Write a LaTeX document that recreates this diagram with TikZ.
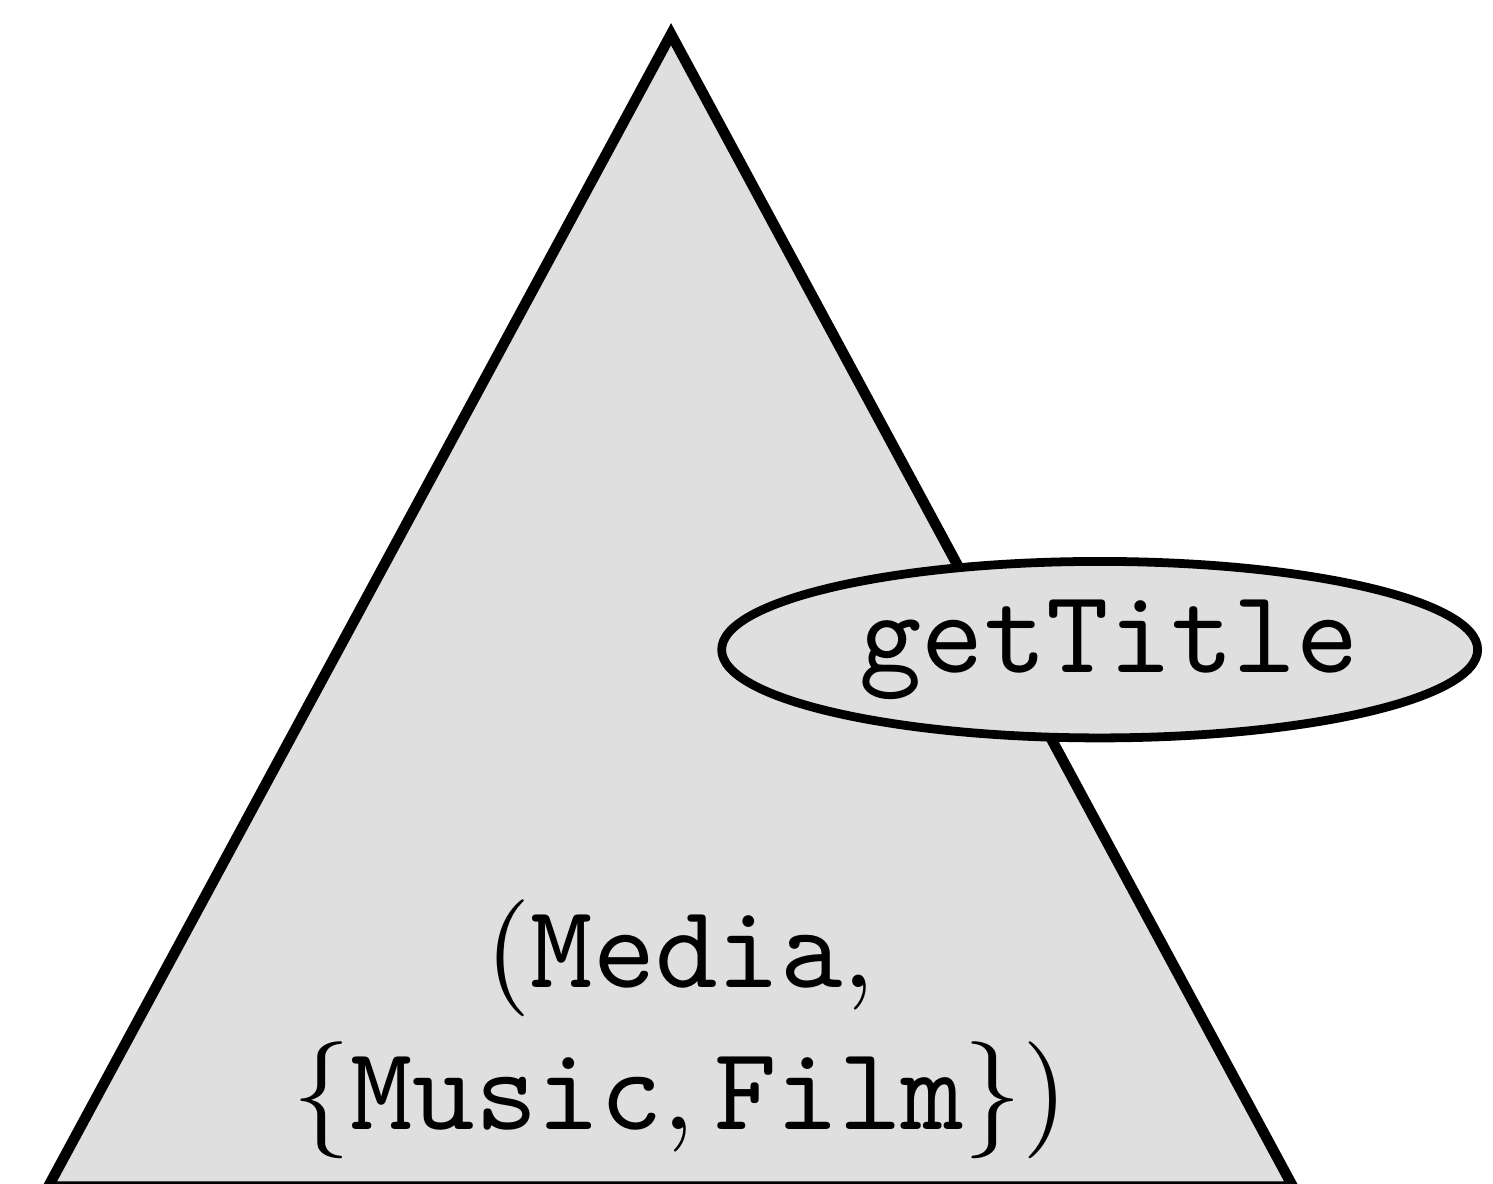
\documentclass[tikz,border=0pt]{standalone}
\usepackage{tikz}
\usetikzlibrary{shapes.geometric}

\begin{document}
\begin{tikzpicture}[
  every node/.style={inner sep=0pt, font=\fontsize{10.15pt}{12.1pt}\selectfont},
  typebox/.style={
    draw=black, line width=0.9pt, line join=miter,
    fill=gray!25
  },
  method/.style={
    ellipse, draw=black, line width=0.75pt,
    fill=gray!25, font=\fontsize{10.15pt}{12.1pt}\selectfont\ttfamily,
    minimum width=2.27cm, minimum height=0.53cm
  },
]
\useasboundingbox (0,0) rectangle (4.483,3.553);

% === TYPE TRIANGLE ===
\coordinate (t-left) at (0.145,-0.01);
\coordinate (t-right) at (3.882,-0.01);
\coordinate (t-top) at (2.015,3.45);
\draw[typebox] (t-left) -- (t-right) -- (t-top) -- cycle;

\node[align=center] (type) at (2.042,0.462)
  {$(\texttt{Media},$\\$\{\texttt{Music},\texttt{Film}\})$};

% === METHOD ===
\node[method] (get-title) at (3.302,1.602) {\hspace{1.6pt}getTitle};

\end{tikzpicture}
\end{document}
